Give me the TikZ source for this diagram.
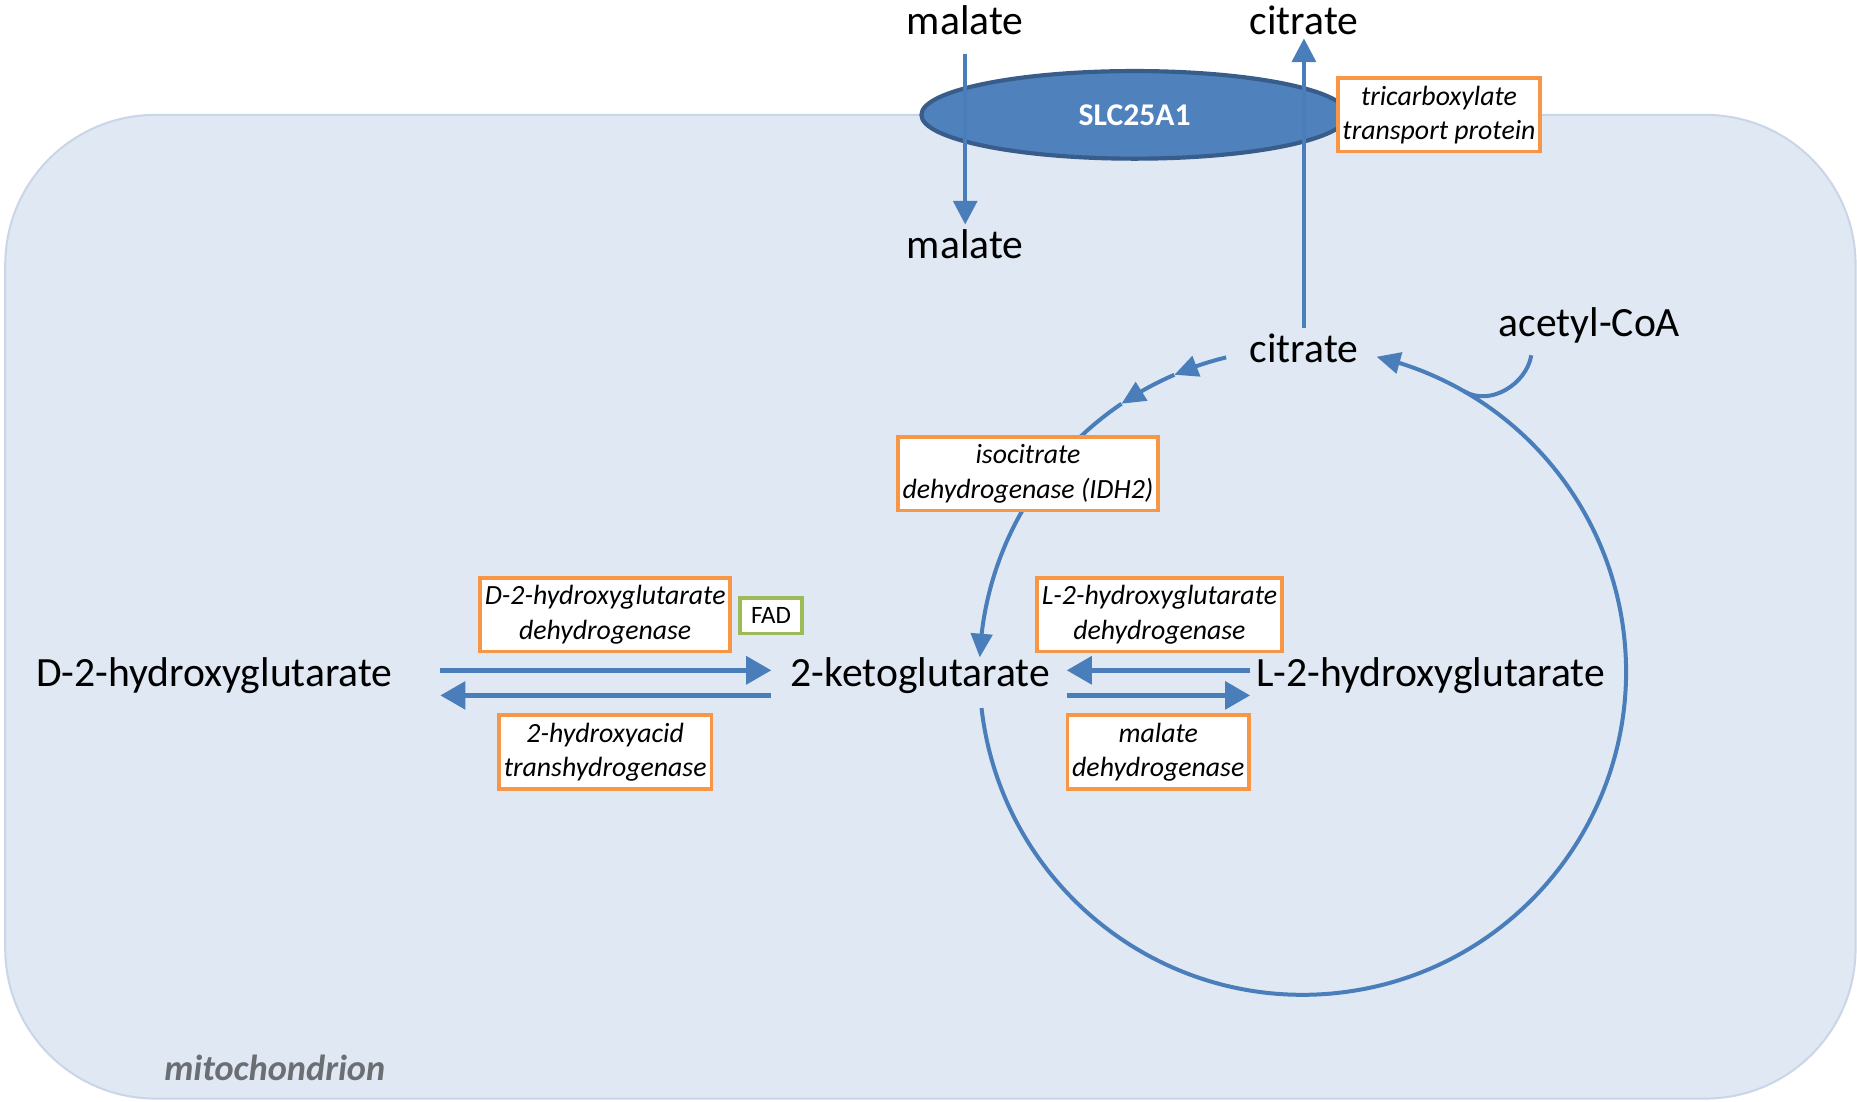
\documentclass[tikz,border=0pt]{standalone}
\usepackage{fontspec}
\setmainfont{Carlito}
\usetikzlibrary{arrows.meta, bending, shapes.geometric, calc}

\definecolor{flujo}{HTML}{4A7EBB}
\definecolor{slcfill}{HTML}{4F81BD}
\definecolor{slcborde}{HTML}{385D8A}
\definecolor{naranja}{HTML}{F79646}
\definecolor{verde}{HTML}{9BBB59}
\definecolor{mitofill}{HTML}{DFE8F3}
\definecolor{mitoborde}{HTML}{C9D6E7}
\definecolor{gris}{HTML}{6B6E73}

\begin{document}
\begin{tikzpicture}

	\tikzstyle{met}=[inner sep=0, anchor=base, text height=0.72em, text depth=0.22em, font=\fontsize{25}{30}\selectfont]
	\tikzstyle{enz}=[draw=naranja, fill=white, line width=2.2pt, inner xsep=0.1cm, minimum height=1.55cm, align=center, font=\fontsize{16.7}{20.6}\selectfont\itshape]
	\tikzstyle{cofactor}=[draw=verde, fill=white, line width=2.2pt, minimum width=1.3cm, minimum height=0.75cm, font=\fontsize{15}{18}\selectfont]
	\tikzstyle{flux}=[flujo, line width=2.9pt, -{Triangle[length=0.53cm, width=0.58cm]}]
	\tikzstyle{cyc}=[flujo, line width=2.4pt, -{Triangle[length=0.5cm, width=0.45cm]}]
	\tikzstyle{trans}=[flujo, line width=2.5pt, -{Triangle[length=0.5cm, width=0.5cm]}]

	\useasboundingbox (0, 0) rectangle (39.2, 23.25);

	%%%%%%%%%%%%%%%%%%%%%%%%%%%%%%%%%
	%%%%%%%% MITOCONDRIA %%%%%%%%
	\draw[draw=mitoborde, fill=mitofill, line width=1.2pt, rounded corners=3.17cm] (0.11, 0.06) rectangle (39.17, 20.825);
	\node[font=\fontsize{21.8}{26}\selectfont\bfseries\itshape, text=gris] (mito) at (5.8, 0.7) {mitochondrion};
	%%%%%%%%%%%%%%%%%%%%%%%%%%%%%%%%%

	\coordinate (mal_out) at (20.375, 22.525); % FUERA
	\coordinate (cit_out) at (27.525, 22.525); % FUERA
	\coordinate (mal_in) at (20.375, 17.8); % DENTRO
	\coordinate (cit_in) at (27.525, 15.6); % DENTRO
	\coordinate (acoa) at (33.55, 16.15); % DENTRO
	\coordinate (d2hg) at (4.525, 8.75);
	\coordinate (akg) at (19.425, 8.75);
	\coordinate (l2hg) at (30.2, 8.75);

	\coordinate (tca) at (27.5, 9.075); % CENTRO DEL CICLO
	\coordinate (c_akg_out) at ($(tca)+(186.5:6.825)$);
	\coordinate (c_cit_out) at ($(tca)+(103.7:6.825)$);
	\coordinate (c_join) at ($(tca)+(60:6.825)$);
	\coordinate (c_acoa) at (32.325, 15.75);

	\node[ellipse, draw=slcborde, fill=slcfill, line width=2.5pt, minimum width=9cm, minimum height=1.85cm, text=white, font=\fontsize{19}{23}\selectfont\bfseries] (slc) at (23.95, 20.825) {SLC25A1};

	\node[met] (mal_out) at (mal_out) {malate};
	\node[met] (cit_out) at (cit_out) {citrate};
	\node[met] (mal_in) at (mal_in) {malate};
	\node[met] (cit_in) at (cit_in) {citrate};
	\node[met] (acoa) at (acoa) {acetyl-CoA};
	\node[met] (d2hg) at (d2hg) {D-2-hydroxyglutarate};
	\node[met] (akg) at (akg) {2-ketoglutarate};
	\node[met] (l2hg) at (l2hg) {L-2-hydroxyglutarate};

	%%%%%%%%%%%%%%%%%%%%%%%%%%%%%%%%%
	%%%%%%% TRANSPORTE %%%%%%%%
	\draw[trans, shorten <=0.335cm, shorten >=0.45cm] (mal_out) -- (mal_in);
	\draw[trans, shorten <=0.475cm] (cit_in) -- (cit_out);
	%%%%%%%%%%%%%%%%%%%%%%%%%%%%%%%%%

	%%%%%%%%%%%%%%%%%%%%%%%%%%%%%%%%%
	%%%%%%% CICLO %%%%%%%%
	\draw[cyc] (c_akg_out) arc[start angle=186.5, end angle=436.8, radius=6.825];
	\draw[flujo, line width=2.4pt] (c_acoa) to[out=-100, in=-30] (c_join);
	\draw[cyc] (c_cit_out) arc[start angle=103.7, end angle=113.4, radius=6.825] coordinate (c_1);
	\draw[cyc] (c_1) arc[start angle=113.4, end angle=124.1, radius=6.825] coordinate (c_2);
	\draw[cyc] (c_2) arc[start angle=124.1, end angle=177.5, radius=6.825];
	%%%%%%%%%%%%%%%%%%%%%%%%%%%%%%%%%

	%%%%%%%%%%%%%%%%%%%%%%%%%%%%%%%%%
	%%%%%%% HIDROXIGLUTARATO %%%%%%%%
	\draw[flux] ([xshift=1cm, yshift=0.35cm]d2hg.base east) -- ([xshift=-0.4cm, yshift=0.35cm]akg.base west);
	\draw[flux] ([xshift=-0.4cm, yshift=-0.18cm]akg.base west) -- ([xshift=1cm, yshift=-0.18cm]d2hg.base east);
	\draw[flux] ([xshift=-0.125cm, yshift=0.35cm]l2hg.base west) -- ([xshift=0.35cm, yshift=0.35cm]akg.base east);
	\draw[flux] ([xshift=0.35cm, yshift=-0.18cm]akg.base east) -- ([xshift=-0.125cm, yshift=-0.18cm]l2hg.base west);
	%%%%%%%%%%%%%%%%%%%%%%%%%%%%%%%%%

	%%%%%%%%%%%%%%%%%%%%%%%%%%%%%%%%%
	%%%%%%% ENZIMAS %%%%%%%%
	\node[enz] (ctp) at (30.375, 20.825) {tricarboxylate\\transport protein};
	\node[enz] (idh) at (21.7, 13.25) {isocitrate\\dehydrogenase (IDH2)};
	\node[enz] (d2hgdh) at (12.775, 10.275) {D-2-hydroxyglutarate\\dehydrogenase};
	\node[cofactor] (fad) at (16.275, 10.25) {FAD};
	\node[enz] (hot) at (12.775, 7.375) {2-hydroxyacid\\transhydrogenase};
	\node[enz] (l2hgdh) at (24.475, 10.275) {L-2-hydroxyglutarate\\dehydrogenase};
	\node[enz] (mdh) at (24.45, 7.375) {malate\\dehydrogenase};
	%%%%%%%%%%%%%%%%%%%%%%%%%%%%%%%%%
\end{tikzpicture}
\end{document}
